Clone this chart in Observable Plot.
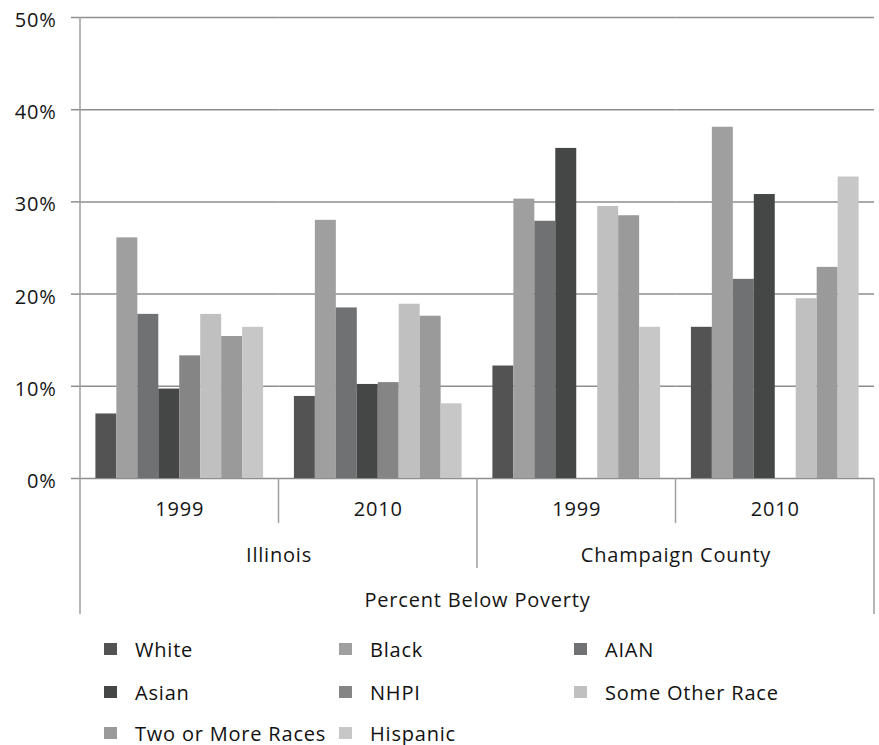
<!DOCTYPE html>
<html>
<head>
<meta charset="utf-8">
<script src="https://cdn.jsdelivr.net/npm/d3@7"></script>
<script src="https://cdn.jsdelivr.net/npm/@observablehq/plot@0.6"></script>
<style>
  body { margin: 0; background: #fff; font-family: "Open Sans", sans-serif; }
  #legend { position: relative; width: 879px; height: 125px; }
  .item { position: absolute; display: flex; align-items: center; height: 24px;
          font-size: 20px; letter-spacing: 0.8px; color: #111; white-space: nowrap; }
  .sw { width: 13px; height: 12px; margin-right: 18px; flex: none; }
</style>
</head>
<body>
<div id="chart"></div>
<div id="legend"></div>
<script>
// ---- data ----
const races = ["White", "Black", "AIAN", "Asian", "NHPI", "Some Other Race", "Two or More Races", "Hispanic"];
const raceColors = ["#535353", "#9f9f9f", "#707173", "#454646", "#858585", "#c0c0c0", "#9a9a9a", "#c7c7c7"];
const places = ["Illinois", "Champaign County"];
const years = ["1999", "2010"];
const illinois1999 = [7.0, 26.1, 17.8, 9.7, 13.3, 17.8, 15.4, 16.4];
const illinois2010 = [8.9, 28.0, 18.5, 10.2, 10.4, 18.9, 17.6, 8.1];
const champaign1999 = [12.2, 30.3, 27.9, 35.8, null, 29.5, 28.5, 16.4];
const champaign2010 = [16.4, 38.1, 21.6, 30.8, null, 19.5, 22.9, 32.7];
const yTicks = [0, 10, 20, 30, 40, 50];
const axisTitle = "Percent Below Poverty";

// ---- build table ----
const series = {
  "Illinois|1999": illinois1999, "Illinois|2010": illinois2010,
  "Champaign County|1999": champaign1999, "Champaign County|2010": champaign2010
};
const groups = [];
for (const p of places) for (const y of years) groups.push({key: p + "|" + y, place: p, year: y});
const groupKeys = groups.map(g => g.key);
const rows = [];
for (const g of groups) series[g.key].forEach((v, i) => {
  if (v != null) rows.push({group: g.key, race: races[i], value: v});
});
// place label sits at the boundary between its two year groups (left edge of its 2nd group)
const placeRows = places.map(p => ({place: p, anchorGroup: p + "|" + years[1]}));
// overall title sits at the boundary between the two places (left edge of 2nd place's 1st group)
const titleRows = [{text: axisTitle, anchorGroup: places[1] + "|" + years[0]}];

const W = 879, H = 620;
const textColor = "#151515";
const lineColor = "#8e8e8e";
const divColor = "#9e9e9e";
const yearDy = 31, placeDy = 77, titleDy = 122;
const yearEnd = 45, placeEnd = 90, outerEnd = 136;

const chart = Plot.plot({
  width: W, height: H,
  marginLeft: 80, marginRight: 5, marginTop: 17, marginBottom: 142,
  style: {fontFamily: "Open Sans", fontSize: "20px", letterSpacing: "0.8px", color: textColor, background: "#fff", overflow: "visible"},
  fx: {domain: groupKeys, paddingInner: 0, paddingOuter: 0, round: false, axis: null, label: null},
  x: {domain: races, paddingInner: 0, paddingOuter: 0.735, round: false, axis: null, label: null},
  y: {domain: [0, 50], axis: null, label: null},
  color: {domain: races, range: raceColors},
  marks: [
    Plot.gridY(yTicks, {stroke: lineColor, strokeOpacity: 1, strokeWidth: 1.5}),
    Plot.axisY(yTicks, {tickSize: 9, fill: "none", stroke: lineColor, strokeWidth: 1.5, label: null}),
    Plot.axisY(yTicks, {tickSize: 0, tickPadding: 24, dy: 3, fill: textColor, fontSize: 20,
                        tickFormat: d => d + "%", label: null}),
    Plot.barY(rows, {fx: "group", x: "race", y: "value", fill: "race"}),
    Plot.text(groups, {fx: "key", text: "year", frameAnchor: "bottom", dy: yearDy,
                       lineAnchor: "middle", fontSize: 20, fill: textColor}),
    Plot.text(placeRows, {fx: "anchorGroup", text: "place", frameAnchor: "bottom-left", textAnchor: "middle",
                          dy: placeDy, lineAnchor: "middle", fontSize: 20, fill: textColor}),
    Plot.text(titleRows, {fx: "anchorGroup", text: "text", frameAnchor: "bottom-left", textAnchor: "middle",
                          dy: titleDy, lineAnchor: "middle", fontSize: 20, fill: textColor})
  ]
});
document.getElementById("chart").appendChild(chart);

// ---- category axis dividers (from the library's fx / y scales) ----
const fx = chart.scale("fx"), ys = chart.scale("y");
const y0 = ys.apply(0), yTop = ys.apply(50);
const svg = d3.select(chart);
const g = svg.append("g").attr("stroke", divColor).attr("stroke-width", 1.5);
const edges = groupKeys.map(k => fx.apply(k));
edges.push(fx.apply(groupKeys[groupKeys.length - 1]) + fx.bandwidth);
edges.forEach((ex, i) => {
  let len;
  if (i === 0 || i === groupKeys.length) len = outerEnd;
  else if (groups[i].place !== groups[i - 1].place) len = placeEnd;
  else len = yearEnd;
  g.append("line").attr("x1", ex).attr("x2", ex)
    .attr("y1", i === 0 ? yTop : y0).attr("y2", y0 + len);
});

// ---- legend ----
const legend = document.getElementById("legend");
const rowCenters = [29, 72, 113];
races.forEach((r, i) => {
  const col = i % 3, row = Math.floor(i / 3);
  const it = document.createElement("div");
  it.className = "item";
  it.style.left = (104 + col * 235) + "px";
  it.style.top = (rowCenters[row] - 12) + "px";
  const sw = document.createElement("div");
  sw.className = "sw";
  sw.style.background = raceColors[i];
  const tx = document.createElement("span");
  tx.textContent = r;
  it.appendChild(sw); it.appendChild(tx);
  legend.appendChild(it);
});
</script>
</body>
</html>
